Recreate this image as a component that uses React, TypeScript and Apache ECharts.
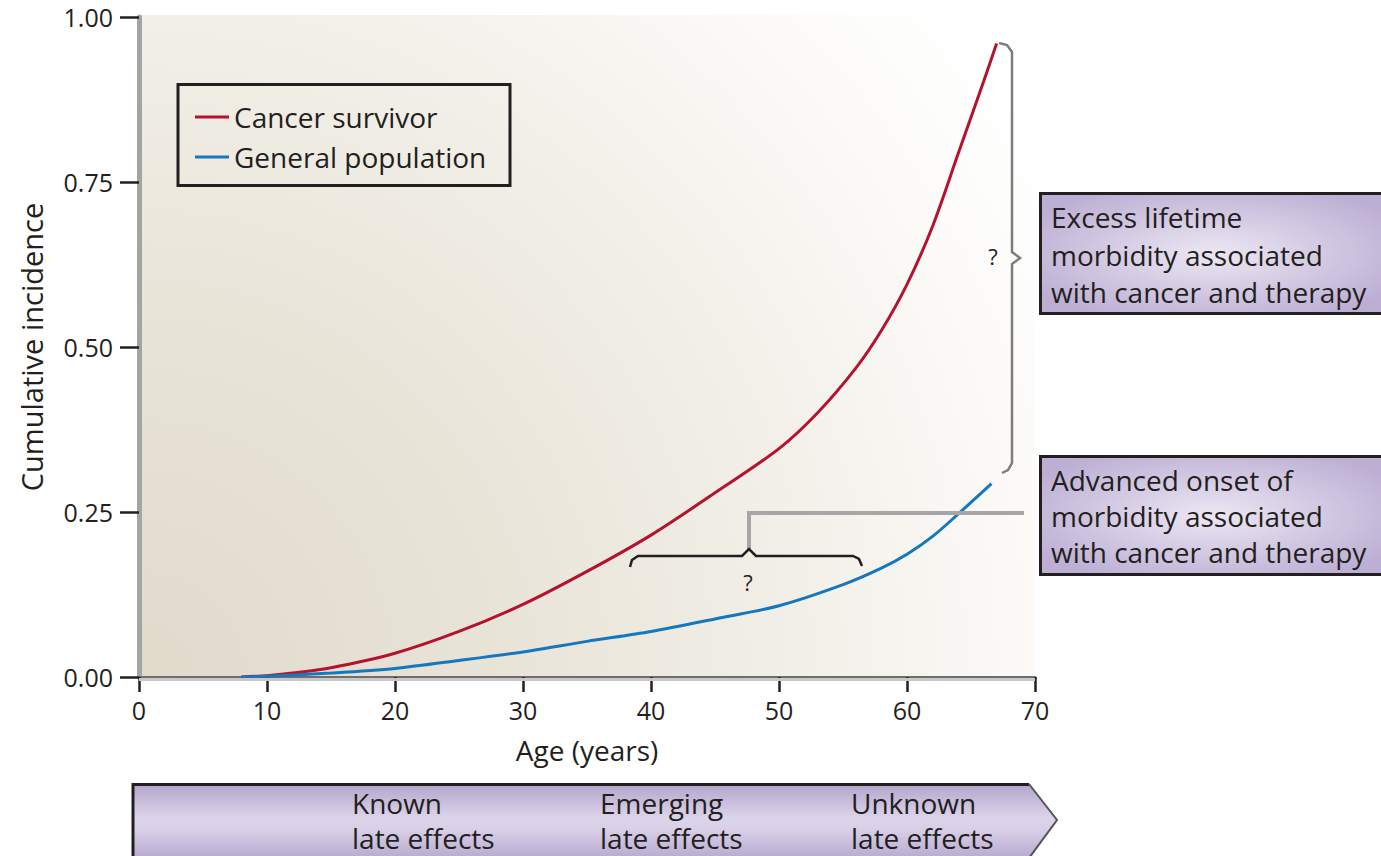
import React, { useEffect, useRef } from "react";
import * as echarts from "echarts";

// ---- data ----
const survivorAges = [8, 10, 12, 15, 20, 25, 30, 35, 40, 45, 50, 53, 56, 58, 60, 62, 64, 66, 67];
const survivorIncidence = [0, 0.002, 0.006, 0.014, 0.036, 0.069, 0.11, 0.16, 0.215, 0.279, 0.346, 0.4, 0.468, 0.525, 0.595, 0.683, 0.793, 0.903, 0.96];
const generalAges = [8, 10, 15, 20, 25, 30, 35, 40, 45, 50, 55, 58, 60, 62, 64, 66.6];
const generalIncidence = [0, 0.001, 0.006, 0.013, 0.025, 0.038, 0.054, 0.069, 0.088, 0.108, 0.14, 0.165, 0.186, 0.213, 0.247, 0.293];
const xTicks = [0, 10, 20, 30, 40, 50, 60, 70];
const yTicks = [0, 0.25, 0.5, 0.75, 1.0];
const seriesNames = ["Cancer survivor", "General population"];
const box1Lines = ["Excess lifetime", "morbidity associated", "with cancer and therapy"];
const box2Lines = ["Advanced onset of", "morbidity associated", "with cancer and therapy"];
const bannerLabels = [
  ["Known", "late effects"],
  ["Emerging", "late effects"],
  ["Unknown", "late effects"],
];

const FONT = '"Open Sans", "Liberation Sans", sans-serif';
const INK = "#231f20";

export default function App() {
  const ref = useRef<HTMLDivElement>(null);
  useEffect(() => {
    if (!ref.current) return;
    const chart = echarts.init(ref.current, null, { renderer: "svg" });

    const txt = (text: string, x: number, y: number, size = 28, align = "left") => ({
      type: "text",
      x,
      y,
      z: 20,
      style: {
        text,
        fill: INK,
        font: `${size}px ${FONT}`,
        textAlign: align,
        textVerticalAlign: "middle",
        align,
        verticalAlign: "middle",
      },
    });

    const boxFill = {
      type: "radial",
      x: 0.5,
      y: 0.5,
      r: 0.6,
      colorStops: [
        { offset: 0, color: "#ece7f3" },
        { offset: 1, color: "#bdafd4" },
      ],
    };

    const bannerX = [352, 600, 851];

    const graphic: any[] = [
      // plot background
      {
        type: "rect",
        z: -10,
        shape: { x: 139, y: 15, width: 896, height: 662 },
        style: {
          fill: {
            type: "radial",
            x: 139,
            y: 677,
            r: 1050,
            global: true,
            colorStops: [
              { offset: 0, color: "#e0dacb" },
              { offset: 0.35, color: "#e8e4d8" },
              { offset: 0.62, color: "#f2efe8" },
              { offset: 0.85, color: "#fbfaf7" },
              { offset: 1, color: "#ffffff" },
            ],
          },
        },
      },
      // x axis shadow
      {
        type: "line",
        z: 5,
        shape: { x1: 139, y1: 679.5, x2: 1035, y2: 679.5 },
        style: { stroke: "#c8c8c8", lineWidth: 3 },
      },
      // legend box
      {
        type: "rect",
        z: 20,
        shape: { x: 178, y: 84.5, width: 332, height: 101 },
        style: { fill: "none", stroke: INK, lineWidth: 3 },
      },
      // right brace
      {
        type: "polyline",
        z: 20,
        shape: {
          points: [
            [999, 43],
            [1007, 45],
            [1012, 52],
            [1012, 252],
            [1020, 258],
            [1012, 264],
            [1012, 463],
            [1008, 470],
            [1002, 473],
          ],
        },
        style: { stroke: "#7d7d7d", lineWidth: 2.5, fill: null },
      },
      txt("?", 993, 256, 22, "center"),
      // grey connector
      {
        type: "polyline",
        z: 20,
        shape: { points: [[749, 550], [749, 513], [1024, 513]] },
        style: { stroke: "#a6a6a6", lineWidth: 4, fill: null },
      },
      // horizontal brace
      {
        type: "polyline",
        z: 21,
        shape: {
          points: [
            [630, 567],
            [632, 560],
            [638, 556],
            [742, 556],
            [749, 549],
            [756, 556],
            [853, 556],
            [859, 559],
            [862, 566],
          ],
        },
        style: { stroke: INK, lineWidth: 2.5, fill: null },
      },
      txt("?", 748, 582, 22, "center"),
      // box 1
      {
        type: "rect",
        z: 20,
        shape: { x: 1040.5, y: 193.5, width: 345, height: 120 },
        style: { fill: boxFill, stroke: INK, lineWidth: 3 },
      },
      ...box1Lines.map((t, i) => txt(t, 1051, 217 + i * 37.5)),
      // box 2
      {
        type: "rect",
        z: 20,
        shape: { x: 1040.5, y: 456.5, width: 345, height: 118 },
        style: { fill: boxFill, stroke: INK, lineWidth: 3 },
      },
      ...box2Lines.map((t, i) => txt(t, 1051, 480 + i * 36)),
      // bottom banner
      {
        type: "polygon",
        z: 20,
        shape: {
          points: [
            [132, 784],
            [1029, 784],
            [1057, 820],
            [1029, 860],
            [132, 860],
          ],
        },
        style: {
          fill: {
            type: "linear",
            x: 0,
            y: 0,
            x2: 0,
            y2: 1,
            colorStops: [
              { offset: 0, color: "#b3a5cc" },
              { offset: 0.45, color: "#dcd4ea" },
              { offset: 0.6, color: "#d8cfe7" },
              { offset: 1, color: "#b6a8cf" },
            ],
          },
        },
      },
      {
        type: "polyline",
        z: 21,
        shape: { points: [[133, 860], [133, 784.5], [1029, 784.5]] },
        style: { stroke: INK, lineWidth: 3, fill: null },
      },
      {
        type: "polyline",
        z: 21,
        shape: { points: [[1029, 784], [1057, 820], [1029, 858]] },
        style: { stroke: "#555555", lineWidth: 2, fill: null },
      },
      ...bannerLabels.flatMap((pair, i) => [
        txt(pair[0], bannerX[i], 803),
        txt(pair[1], bannerX[i], 838),
      ]),
    ];

    chart.setOption({
      animation: false,
      backgroundColor: "#ffffff",
      grid: { left: 139, top: 17, right: 346, bottom: 179, containLabel: false },
      legend: {
        show: true,
        orient: "vertical",
        left: 195,
        top: 103,
        padding: 0,
        itemWidth: 34,
        itemHeight: 3,
        itemGap: 12,
        icon: "rect",
        data: seriesNames,
        textStyle: { color: INK, fontSize: 28, fontFamily: FONT, lineHeight: 28 },
      },
      xAxis: {
        type: "value",
        min: xTicks[0],
        max: xTicks[xTicks.length - 1],
        interval: 10,
        name: "Age (years)",
        nameLocation: "middle",
        nameGap: 59,
        nameTextStyle: { color: INK, fontSize: 28, fontFamily: FONT },
        axisLine: { show: true, lineStyle: { color: "#6e6e6e", width: 3 } },
        axisTick: { show: true, inside: false, length: 15, lineStyle: { color: INK, width: 2.5 } },
        axisLabel: { color: INK, fontSize: 25, fontFamily: FONT, margin: 20 },
        splitLine: { show: false },
      },
      yAxis: {
        type: "value",
        min: yTicks[0],
        max: yTicks[yTicks.length - 1],
        interval: 0.25,
        name: "Cumulative incidence",
        nameLocation: "middle",
        nameGap: 93,
        nameTextStyle: { color: INK, fontSize: 29, fontFamily: FONT },
        axisLine: { show: true, lineStyle: { color: "#a4a4a4", width: 5 } },
        axisTick: { show: true, inside: false, length: 19, lineStyle: { color: INK, width: 2.5 } },
        axisLabel: {
          color: INK,
          fontSize: 25,
          fontFamily: FONT,
          margin: 26,
          formatter: (v: number) => v.toFixed(2),
        },
        splitLine: { show: false },
      },
      series: [
        {
          name: seriesNames[0],
          type: "line",
          smooth: 0.3,
          showSymbol: false,
          symbol: "none",
          z: 3,
          lineStyle: { color: "#b5122e", width: 3 },
          itemStyle: { color: "#b5122e" },
          data: survivorAges.map((a, i) => [a, survivorIncidence[i]]),
        },
        {
          name: seriesNames[1],
          type: "line",
          smooth: 0.3,
          showSymbol: false,
          symbol: "none",
          z: 4,
          lineStyle: { color: "#1677bd", width: 3 },
          itemStyle: { color: "#1677bd" },
          data: generalAges.map((a, i) => [a, generalIncidence[i]]),
        },
      ],
      graphic,
    });

    return () => chart.dispose();
  }, []);

  return (
    <div
      ref={ref}
      style={{ position: "fixed", left: 0, top: 0, width: 1381, height: 856 }}
    />
  );
}
